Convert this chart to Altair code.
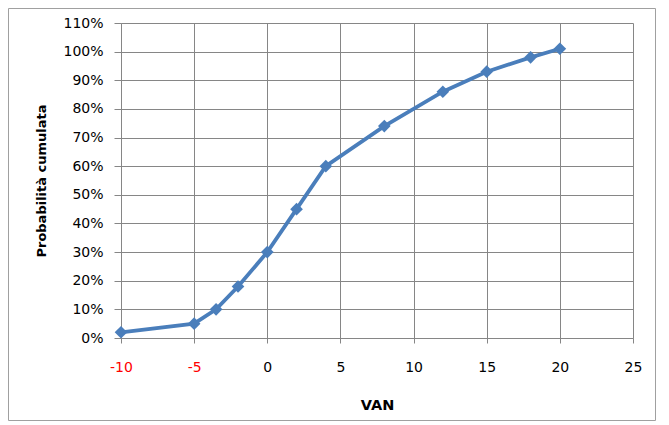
import altair as alt
import pandas as pd

van = [-10, -5, -3.5, -2, 0, 2, 4, 8, 12, 15, 18, 20]
prob = [0.02, 0.05, 0.10, 0.18, 0.30, 0.45, 0.60, 0.74, 0.86, 0.93, 0.98, 1.01]

x_ticks = [-10, -5, 0, 5, 10, 15, 20, 25]
y_ticks = [0, 0.1, 0.2, 0.3, 0.4, 0.5, 0.6, 0.7, 0.8, 0.9, 1.0, 1.1]

df = pd.DataFrame({"VAN": van, "prob": prob})

BLUE = "#4A7EBB"
GRID = "#868686"
FONT = "DejaVu Sans"

x_enc = alt.X(
    "VAN:Q",
    scale=alt.Scale(domain=[-10, 25], nice=False, zero=False),
    axis=alt.Axis(
        values=x_ticks,
        labelExpr="datum.value + ''",
        title="VAN",
        titleFont=FONT,
        titleFontSize=14.5,
        titleFontWeight="bold",
        titleColor="#000000",
        titleY=71,
        titleBaseline="alphabetic",
        labelFont=FONT,
        labelFontSize=14,
        labelColor={"expr": "datum.value < 0 ? '#FF0000' : '#000000'"},
        labelPadding=17,
        labelOverlap=False,
        tickSize=5,
        tickColor=GRID,
        domainColor=GRID,
        gridColor=GRID,
        gridWidth=1,
        labelFlush=False,
    ),
)
y_enc = alt.Y(
    "prob:Q",
    scale=alt.Scale(domain=[0, 1.1], nice=False),
    axis=alt.Axis(
        values=y_ticks,
        format=".0%",
        title="Probabilità cumulata",
        titleFont=FONT,
        titleFontSize=13,
        titleFontWeight="bold",
        titleColor="#000000",
        titleX=-76,
        titleBaseline="alphabetic",
        labelFont=FONT,
        labelFontSize=14,
        labelColor="#000000",
        labelPadding=11,
        labelOverlap=False,
        tickSize=7,
        tickColor=GRID,
        domainColor=GRID,
        gridColor=GRID,
        gridWidth=1,
        labelFlush=False,
    ),
)

line = alt.Chart(df).mark_line(color=BLUE, strokeWidth=3.8).encode(x=x_enc, y=y_enc)
pts = alt.Chart(df).mark_point(
    shape="diamond", filled=True, size=160, color=BLUE, opacity=1
).encode(x=x_enc, y=y_enc)

border = alt.Chart(pd.DataFrame({"a": [0]})).mark_rect(
    fill="transparent", stroke="#A0A0A0", strokeWidth=1
).encode(
    x=alt.value(-112.5), x2=alt.value(534.5), y=alt.value(-14.5), y2=alt.value(397.5)
)

chart = (
    alt.layer(border, line, pts)
    .properties(
        width=512,
        height=315,
        padding={"left": 113, "top": 15, "right": 23, "bottom": 83},
        autosize="none",
        background="white",
    )
    .configure_view(stroke="transparent")
)

chart.save("out.html", embed_options={"renderer": "svg", "actions": False})
